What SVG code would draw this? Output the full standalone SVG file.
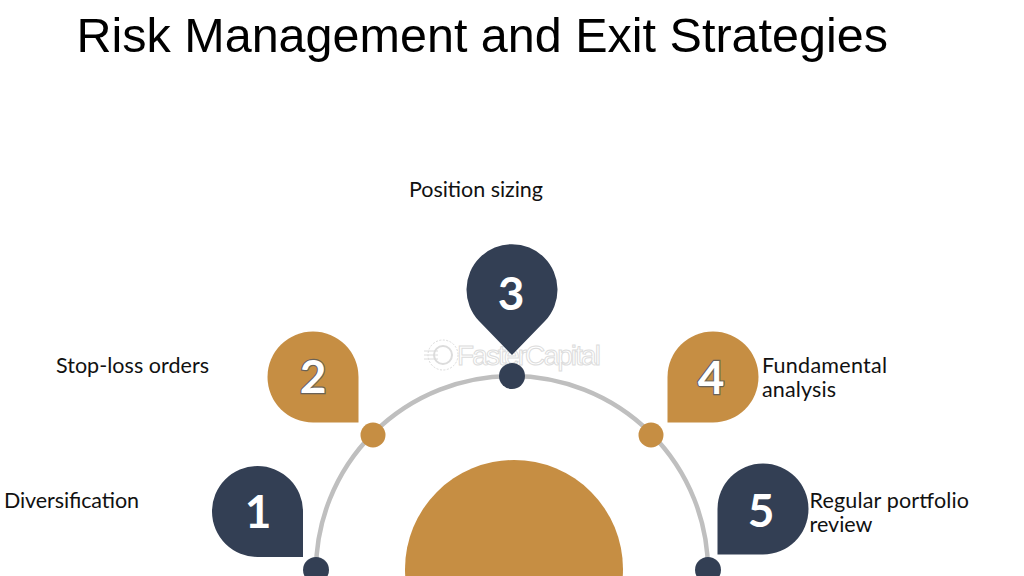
<svg xmlns="http://www.w3.org/2000/svg" width="1024" height="576" viewBox="0 0 1024 576">
<style>
.t{font-family:"Lato","Open Sans",sans-serif;font-size:21.5px;fill:#111}
.n{font-family:"Lato","Open Sans",sans-serif;font-size:46px;font-weight:700;fill:#fff;text-anchor:middle}
.o{stroke:#6b6257;stroke-width:2.4px;paint-order:stroke}
.navy{fill:#333f54}
.gold{fill:#c68e43}
</style>
<rect width="1024" height="576" fill="#fff"/>
<text id="title" x="76.500" y="52" font-family="Liberation Sans, Arial, sans-serif" font-size="48.500px" fill="#000">Risk Management and Exit Strategies</text>
<g id="connectors"><path d="M316 576V571A196 195 0 0 1 708 571V576" fill="none" stroke="#bfbfbf" stroke-width="4.500"/></g>
<g id="watermark" fill="#fff" stroke="#dcdcdc" stroke-width="1">
<circle cx="443" cy="355" r="15" stroke-dasharray="2 1.500"/><circle cx="443" cy="355" r="9" stroke-width="2"/>
<path d="M424 351h14M424 355h14M424 359h14" fill="none"/>
<text x="457" y="365" font-family="Liberation Sans, Arial, sans-serif" font-size="28px" textLength="144">FasterCapital</text></g>
<g id="center"><circle class="gold" cx="514" cy="569" r="109"/></g>
<g id="node1"><path class="navy" d="M303 557H258A45.500 45.500 0 1 1 303 511.500Z"/><circle class="navy" cx="316" cy="570" r="13"/><text class="n" x="258" y="528">1</text><text class="t" x="4" y="508" textLength="135">Diversification</text></g>
<g id="node2"><path class="gold" d="M358.500 422.500H313A45.500 45.500 0 1 1 358.500 377Z"/><circle class="gold" cx="373" cy="435" r="12.500"/><text class="n o" x="313" y="393">2</text><text class="t" x="56" y="373" textLength="153">Stop-loss orders</text></g>
<g id="node3"><path class="navy" d="M512 355L479 321A45.500 45.500 0 1 1 545 321Z"/><circle class="navy" cx="512" cy="376" r="13"/><text class="n" x="511" y="310">3</text><text class="t" x="409" y="197" textLength="134">Position sizing</text></g>
<g id="node4"><path class="gold" d="M667.500 422.500H713A45.500 45.500 0 1 0 667.500 377Z"/><circle class="gold" cx="651" cy="435" r="12.500"/><text class="n o" x="711" y="394">4</text><text class="t" x="762" y="373" textLength="125">Fundamental</text><text class="t" x="762" y="397" textLength="74">analysis</text></g>
<g id="node5"><path class="navy" d="M717.500 554.500H763A45.500 45.500 0 1 0 717.500 509Z"/><circle class="navy" cx="708" cy="570" r="13"/><text class="n" x="761" y="527">5</text><text class="t" x="809.500" y="508" textLength="159.500">Regular portfolio</text><text class="t" x="809.500" y="532" textLength="63">review</text></g>
</svg>
